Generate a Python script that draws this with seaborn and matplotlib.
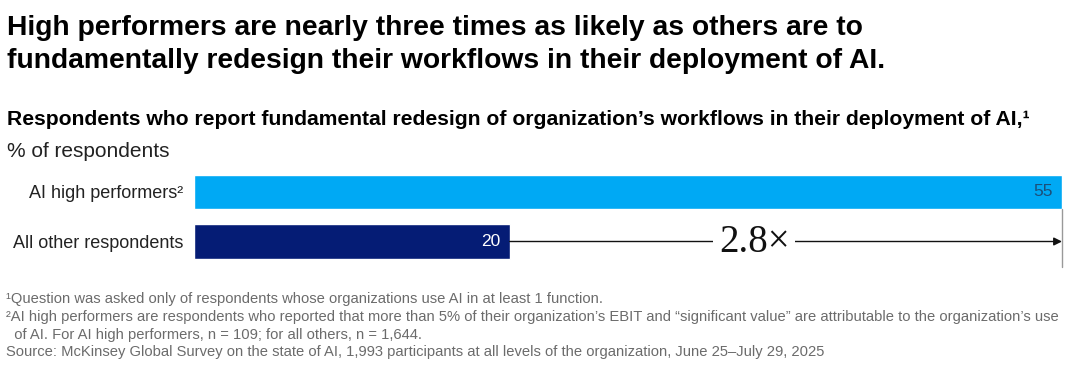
import matplotlib.pyplot as plt
import seaborn as sns
import pandas as pd

# data
groups = ['AI high performers\u00b2', 'All other respondents']
values = [55, 20]
multiple_label = '2.8\u00d7'

title_lines = ['High performers are nearly three times as likely as others are to',
               'fundamentally redesign their workflows in their deployment of AI.']
subtitle = ('Respondents who report fundamental redesign of organization\u2019s '
            'workflows in their deployment of AI,\u00b9')
unit = '% of respondents'
notes = [
    '\u00b9Question was asked only of respondents whose organizations use AI in at least 1 function.',
    '\u00b2AI high performers are respondents who reported that more than 5% of their organization\u2019s EBIT '
    'and \u201csignificant value\u201d are attributable to the organization\u2019s use',
    '  of AI. For AI high performers, n = 109; for all others, n = 1,644.',
    'Source: McKinsey Global Survey on the state of AI, 1,993 participants at all levels of the organization, '
    'June 25\u2013July 29, 2025',
]

sns.set_theme(style='white')
plt.rcParams['font.family'] = ['Liberation Sans', 'DejaVu Sans']

df = pd.DataFrame({'group': groups, 'value': values})
colors = ['#00A9F4', '#051C75']

fig = plt.figure(figsize=(10.8, 3.7), dpi=100)
ax = fig.add_axes([194 / 1080, 1 - 266.25 / 370, 868 / 1080, 99 / 370])

sns.barplot(data=df, x='value', y='group', hue='group', palette=colors,
            width=0.7, legend=False, ax=ax, saturation=1)

ax.set_xlim(0, max(values))
ax.set_ylim(1.5, -0.5)
ax.set_xlabel('')
ax.set_ylabel('')
ax.set_xticks([])
ax.tick_params(axis='y', length=0, pad=8, labelsize=13, labelcolor='#222222')
for s in ax.spines.values():
    s.set_visible(False)

# value labels
ax.text(values[0] - 0.6, 0, str(values[0]), ha='right', va='center',
        fontsize=12.5, color='#1b4f7a')
ax.text(values[1] - 0.6, 1, str(values[1]), ha='right', va='center',
        fontsize=12.5, color='white')

# comparison arrow
ax.annotate('', xy=(values[0], 1), xytext=(values[1], 1),
            arrowprops=dict(arrowstyle='-|>', color='#111111', lw=1,
                            mutation_scale=12, shrinkA=0, shrinkB=0),
            annotation_clip=False)
ax.plot([values[0], values[0]], [0.35, 1.52], color='#999999', lw=1,
        clip_on=False)
ax.text(35.5, 1.03, multiple_label, ha='center', va='center', fontsize=28,
        family=['Liberation Serif', 'DejaVu Serif'], color='#111111',
        bbox=dict(facecolor='white', edgecolor='none', pad=4))

# titles
for y, line in zip([35, 68], title_lines):
    fig.text(7 / 1080, 1 - y / 370, line, ha='left', va='baseline',
             fontsize=20.3, fontweight='bold', color='#000000')
fig.text(7 / 1080, 1 - 125 / 370, subtitle, ha='left', va='baseline',
         fontsize=15.2, fontweight='bold', color='#000000')
fig.text(7 / 1080, 1 - 157 / 370, unit, ha='left', va='baseline',
         fontsize=15, color='#222222')

# footnotes
ys = [303, 321, 339, 356]
for y, n in zip(ys, notes):
    fig.text(6 / 1080, 1 - y / 370, n, ha='left', va='baseline', fontsize=10.6,
             color='#6b6b6b')

fig.savefig('out.png', dpi=100)
